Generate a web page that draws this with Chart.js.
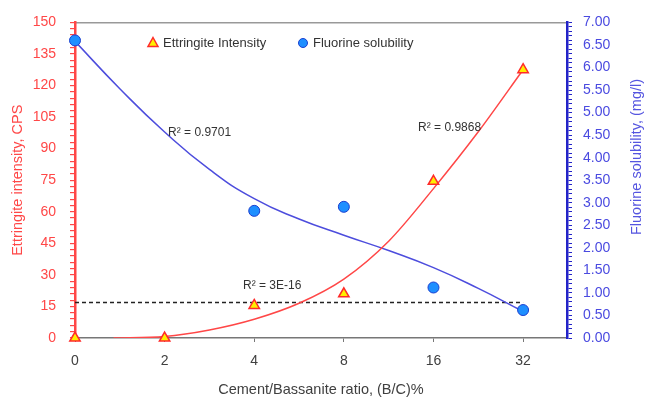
<!DOCTYPE html>
<html>
<head>
<meta charset="utf-8">
<script src="https://cdn.jsdelivr.net/npm/chart.js@4.4.1/dist/chart.umd.min.js"></script>
<style>
  html, body { margin: 0; padding: 0; background: #fff; }
  #wrap { width: 649px; height: 400px; position: relative; }
</style>
</head>
<body>
<div id="wrap"><canvas id="chart"></canvas></div>
<script>
// x categories (B/C ratio) are plotted at even spacing, index 0..5
const categories = ["0", "2", "4", "8", "16", "32"];

// measured points
const ettringite = [0, 0, 15.5, 21, 74.5, 127.5];          // CPS, left axis
const fluorine = [6.6, null, 2.82, 2.91, 1.12, 0.62];       // mg/l, right axis

// trend curves (x = category index)
const ettTrendX = [0.43, 1, 1.5, 2, 2.5, 3, 3.5, 4, 4.5, 5];
const ettTrendY = [0, 0.7, 3.8, 8.9, 16.5, 28, 46, 71, 98, 127.5];
const fluTrendX = [0, 0.5, 1, 1.5, 2, 2.5, 3, 3.5, 4, 4.5, 4.98];
const fluTrendY = [6.58, 5.53, 4.57, 3.74, 3.09, 2.64, 2.28, 1.94, 1.56, 1.1, 0.61];

// flat (mean) line
const meanX = [0, 5];
const meanY = [16.9, 16.9];

// R² labels: text, x index, left-axis value
const r2Text = ["R\u00b2 = 0.9701", "R\u00b2 = 0.9868", "R\u00b2 = 3E-16"];
const r2X = [1.39, 4.18, 2.2];
const r2Y = [97.8, 100.1, 24.9];

const red = "#ff4747";
const font = "'Liberation Sans', Arial, sans-serif";

function pts(xs, ys) {
  return xs.map((x, i) => ({ x, y: ys[i] })).filter((p) => p.y !== null);
}

const legendPlugin = {
  id: "insideLegend",
  afterDatasetsDraw(chart) {
    const ctx = chart.ctx;
    const y = 43;
    ctx.save();
    // triangle
    ctx.beginPath();
    ctx.moveTo(153, y - 5.5);
    ctx.lineTo(158, y + 3.5);
    ctx.lineTo(148, y + 3.5);
    ctx.closePath();
    ctx.fillStyle = "#ffee00";
    ctx.strokeStyle = "#ff2a2a";
    ctx.lineWidth = 1.5;
    ctx.fill();
    ctx.stroke();
    // circle
    ctx.beginPath();
    ctx.arc(303, y, 4.5, 0, Math.PI * 2);
    ctx.fillStyle = "#1e8fff";
    ctx.strokeStyle = "#1b3fd0";
    ctx.lineWidth = 1;
    ctx.fill();
    ctx.stroke();
    ctx.fillStyle = "#333";
    ctx.font = "13px " + font;
    ctx.textBaseline = "middle";
    ctx.fillText("Ettringite Intensity", 163, y);
    ctx.fillText("Fluorine solubility", 313, y);

    // R² labels, placed through the scales
    const xs = chart.scales.x, ys = chart.scales.y;
    ctx.font = "12px " + font;
    ctx.textAlign = "center";
    ctx.fillStyle = "#333";
    r2Text.forEach((t, i) => {
      ctx.fillText(t, xs.getPixelForValue(r2X[i]), ys.getPixelForValue(r2Y[i]));
    });

    // right axis title reads bottom-to-top like the left one
    ctx.translate(637, 157);
    ctx.rotate(-Math.PI / 2);
    ctx.font = "14.5px " + font;
    ctx.fillStyle = "#5555e0";
    ctx.fillText("Fluorine solubility, (mg/l)", 0, 0);
    ctx.restore();
  },
};

new Chart(document.getElementById("chart"), {
  type: "scatter",
  data: {
    datasets: [
      {
        label: "Ettringite Intensity",
        data: pts(ettringite.map((_, i) => i), ettringite),
        yAxisID: "y",
        pointStyle: "triangle",
        pointRadius: 6,
        backgroundColor: "#ffee00",
        borderColor: "#ff2a2a",
        borderWidth: 1.5,
        clip: false,
      },
      {
        label: "Fluorine solubility",
        data: pts(fluorine.map((_, i) => i), fluorine),
        yAxisID: "y1",
        pointStyle: "circle",
        pointRadius: 5.5,
        backgroundColor: "#1e8fff",
        borderColor: "#1b3fd0",
        borderWidth: 1,
        clip: false,
      },
      {
        label: "ett trend",
        data: pts(ettTrendX, ettTrendY),
        yAxisID: "y",
        showLine: true,
        pointRadius: 0,
        borderColor: red,
        borderWidth: 1.5,
        cubicInterpolationMode: "monotone",
      },
      {
        label: "flu trend",
        data: pts(fluTrendX, fluTrendY),
        yAxisID: "y1",
        showLine: true,
        pointRadius: 0,
        borderColor: "#4d4ddd",
        borderWidth: 1.5,
        tension: 0.5,
      },
      {
        label: "mean",
        data: pts(meanX, meanY),
        yAxisID: "y",
        showLine: true,
        pointRadius: 0,
        borderColor: "#222",
        borderWidth: 1.5,
        borderDash: [4, 3],
      },
    ],
  },
  options: {
    responsive: true,
    maintainAspectRatio: false,
    animation: false,
    layout: { padding: 0 },
    plugins: {
      legend: { display: false },
      tooltip: { enabled: false },
    },
    scales: {
      x: {
        type: "linear",
        position: "bottom",
        min: 0,
        max: 5.49,
        afterBuildTicks: (s) => { s.ticks = categories.map((_, i) => ({ value: i })); },
        afterFit: (s) => { s.height = 62; },
        ticks: {
          color: "#404040",
          font: { family: font, size: 14 },
          padding: 11,
          callback: (v) => categories[v] ?? "",
        },
        grid: { drawOnChartArea: false, tickLength: 4, color: "#777" },
        border: { color: "#777", width: 1.5 },
        title: {
          display: true,
          text: "Cement/Bassanite ratio, (B/C)%",
          color: "#404040",
          font: { family: font, size: 14.5 },
          padding: { top: 0, bottom: 1 },
        },
      },
      x2: {
        type: "linear",
        position: "top",
        min: 0,
        max: 5.49,
        afterFit: (s) => { s.height = 19; },
        ticks: { display: false },
        grid: { display: false },
        border: { color: "#999", width: 1.5 },
      },
      y: {
        position: "left",
        min: 0,
        max: 150,
        afterFit: (s) => { s.width = 75; },
        ticks: {
          stepSize: 3,
          autoSkip: false,
          color: red,
          font: { family: font, size: 14 },
          padding: 14,
          callback: (v) => (v % 15 === 0 ? String(v) : ""),
        },
        grid: { drawOnChartArea: false, tickLength: 5, color: red, lineWidth: 1.2 },
        border: { color: red, width: 2.5 },
        title: {
          display: true,
          text: "Ettringite intensity, CPS",
          color: red,
          font: { family: font, size: 14.5 },
          padding: { top: 9, bottom: 0 },
        },
      },
      y1: {
        position: "right",
        min: 0,
        max: 7,
        afterFit: (s) => { s.width = 82; },
        ticks: {
          stepSize: 0.1,
          autoSkip: false,
          color: "#4a4ae0",
          font: { family: font, size: 14 },
          padding: 11,
          callback: (v) => {
            const k = Math.round(v * 10);
            return k % 5 === 0 ? (k / 10).toFixed(2) : "";
          },
        },
        grid: { drawOnChartArea: false, tickLength: 5, color: "#2323c8", lineWidth: 1 },
        border: { color: "#2323c8", width: 2.5 },
      },
    },
  },
  plugins: [legendPlugin],
});
</script>
</body>
</html>
